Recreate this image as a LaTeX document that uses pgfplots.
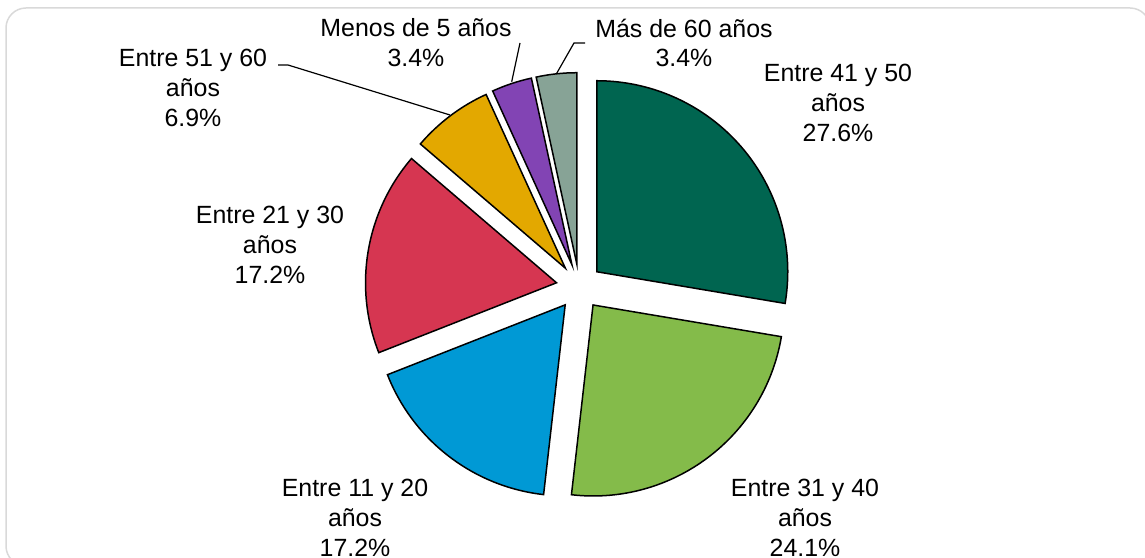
\documentclass[border=0pt]{standalone}
\usepackage{pgfplots}
\pgfplotsset{compat=1.18}
\usepackage{fontspec}
\setmainfont{Liberation Sans}
\definecolor{cA}{HTML}{006550}
\definecolor{cB}{HTML}{84BB4A}
\definecolor{cC}{HTML}{0099D5}
\definecolor{cD}{HTML}{D63651}
\definecolor{cE}{HTML}{E3A800}
\definecolor{cF}{HTML}{8244B4}
\definecolor{cG}{HTML}{87A396}
\definecolor{frame}{HTML}{D9D9D9}
% pie geometry (bp): centre, explosion, radius
\def\cx{579.2}\def\cy{271.4}\def\dd{23}\def\RR{191}\def\tot{99.8}
\newcommand\slice[3]{% #1 cumulative start (%), #2 value (%), #3 colour
  \pgfmathsetmacro\aS{90-(#1)/\tot*360}%
  \pgfmathsetmacro\aE{90-(#1+#2)/\tot*360}%
  \pgfmathsetmacro\aM{(\aS+\aE)/2}%
  \pgfmathsetmacro\px{\cx+\dd*cos(\aM)}%
  \pgfmathsetmacro\py{\cy+\dd*sin(\aM)}%
  \edef\tmp{\noexpand\filldraw[fill=#3,draw=black,line width=1.5bp,line join=miter]
    (axis cs:\px,\py) -- ++(\aS:\RR bp) arc[start angle=\aS,end angle=\aE,radius=\RR bp] -- cycle;}%
  \tmp}
\begin{document}
\begin{tikzpicture}
\begin{axis}[at={(0,0)},anchor=south west,scale only axis,
  width=1145bp,height=558bp,xmin=0,xmax=1145,ymin=0,ymax=558,
  hide axis,clip=false]
\draw[frame,line width=1.5bp,rounded corners=20bp] (axis cs:6,550) rectangle (axis cs:1150,-8);
% values: 27.6, 24.1, 17.2, 17.2, 6.9, 3.4, 3.4 (clockwise from 12 o'clock)
\slice{0}{27.6}{cA}
\slice{27.6}{24.1}{cB}
\slice{51.7}{17.2}{cC}
\slice{68.9}{17.2}{cD}
\slice{86.1}{6.9}{cE}
\slice{93.0}{3.4}{cF}
\slice{96.4}{3.4}{cG}
% leader lines
\draw[black,line width=1.2bp] (axis cs:278,493) -- (axis cs:288,493) -- (axis cs:450,443);
\draw[black,line width=1.2bp] (axis cs:520,515) -- (axis cs:511.7,476.3);
\draw[black,line width=1.2bp] (axis cs:585,515) -- (axis cs:574,515) -- (axis cs:556.7,484.7);
% labels
\tikzset{lab/.style={align=center,inner sep=0pt,font=\fontsize{25}{30}\selectfont}}
\node[lab] at (axis cs:838,455) {Entre 41 y 50\\años\\27.6\%};
\node[lab] at (axis cs:805,40) {Entre 31 y 40\\años\\24.1\%};
\node[lab] at (axis cs:355,40) {Entre 11 y 20\\años\\17.2\%};
\node[lab] at (axis cs:270,313) {Entre 21 y 30\\años\\17.2\%};
\node[lab] at (axis cs:193,470) {Entre 51 y 60\\años\\6.9\%};
\node[lab] at (axis cs:416,515) {Menos de 5 años\\3.4\%};
\node[lab] at (axis cs:684,515) {Más de 60 años\\3.4\%};
\end{axis}
\pgfresetboundingbox
\useasboundingbox (0,0) rectangle (1145bp,558bp);
\end{tikzpicture}
\end{document}
